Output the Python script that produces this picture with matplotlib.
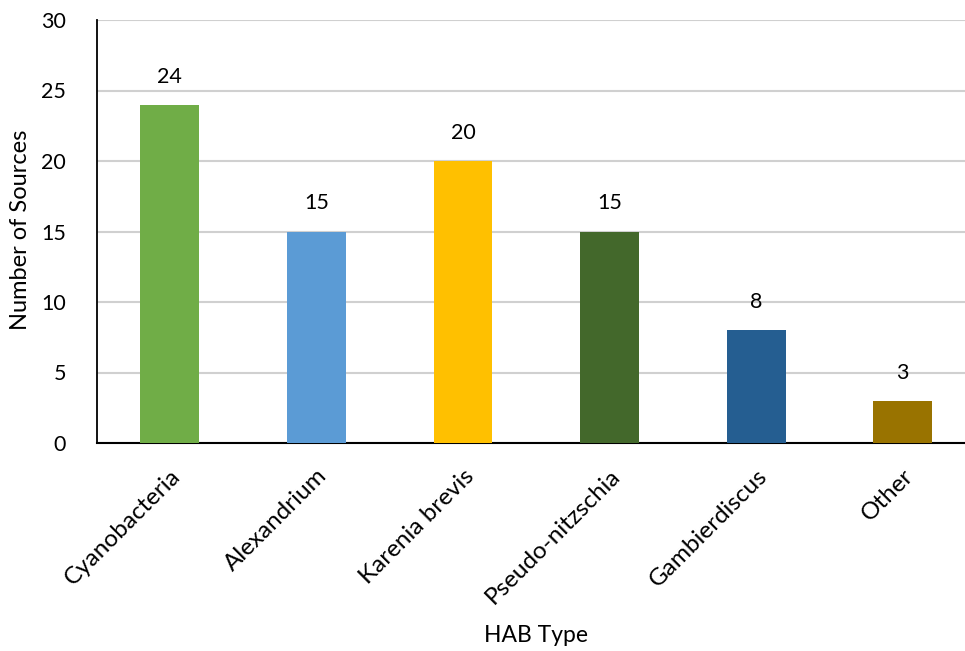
import matplotlib
matplotlib.use("Agg")
import matplotlib.pyplot as plt

categories = ["Cyanobacteria", "Alexandrium", "Karenia brevis",
              "Pseudo-nitzschia", "Gambierdiscus", "Other"]
sources = [24, 15, 20, 15, 8, 3]
colors = ["#70AD47", "#5B9BD5", "#FFC000", "#43682B", "#255E91", "#997300"]
yticks = [0, 5, 10, 15, 20, 25, 30]

plt.rcParams["font.family"] = ["Lato", "DejaVu Sans"]

W, H = 965, 651
fig = plt.figure(figsize=(W / 100, H / 100), dpi=100)
left, right, top, bottom = 96.5, W, 20, 443
ax = fig.add_axes([left / W, (H - bottom) / H, (right - left) / W, (bottom - top) / H])

step = 146.6  # pixels per category
x = list(range(len(categories)))
ax.bar(x, sources, width=0.40, color=colors, zorder=3)

for xi, v in zip(x, sources):
    ax.annotate(str(v), (xi, v), xytext=(0, 13), textcoords="offset points",
                ha="center", va="bottom", fontsize=15.5, color="#000000")

ax.set_xlim(-0.5, -0.5 + (right - left) / step)
ax.set_ylim(0, 30)
ax.set_yticks(yticks)
ax.set_yticklabels([str(t) for t in yticks], fontsize=15.5)
ax.yaxis.grid(True, color="#D0D0D0", linewidth=1.5, zorder=0)
ax.set_axisbelow(True)

ax.set_xticks(x)
ax.set_xticklabels(categories, fontsize=17.5, rotation=45, ha="right",
                   va="top", rotation_mode="anchor")

ax.tick_params(axis="both", length=0)
ax.tick_params(axis="y", pad=22)
ax.tick_params(axis="x", pad=16)

for s in ["top", "right"]:
    ax.spines[s].set_visible(False)
ax.spines["left"].set_color("#000000")
ax.spines["bottom"].set_color("#000000")
ax.spines["left"].set_linewidth(1.3)
ax.spines["bottom"].set_linewidth(1.5)

fig.text(21 / W, 1 - 230 / H, "Number of Sources", rotation=90,
         ha="center", va="center", fontsize=17)
fig.text((left + 976) / 2 / W, 1 - 636 / H, "HAB Type", ha="center",
         va="center", fontsize=16.5)

fig.savefig("out.png", dpi=100)
